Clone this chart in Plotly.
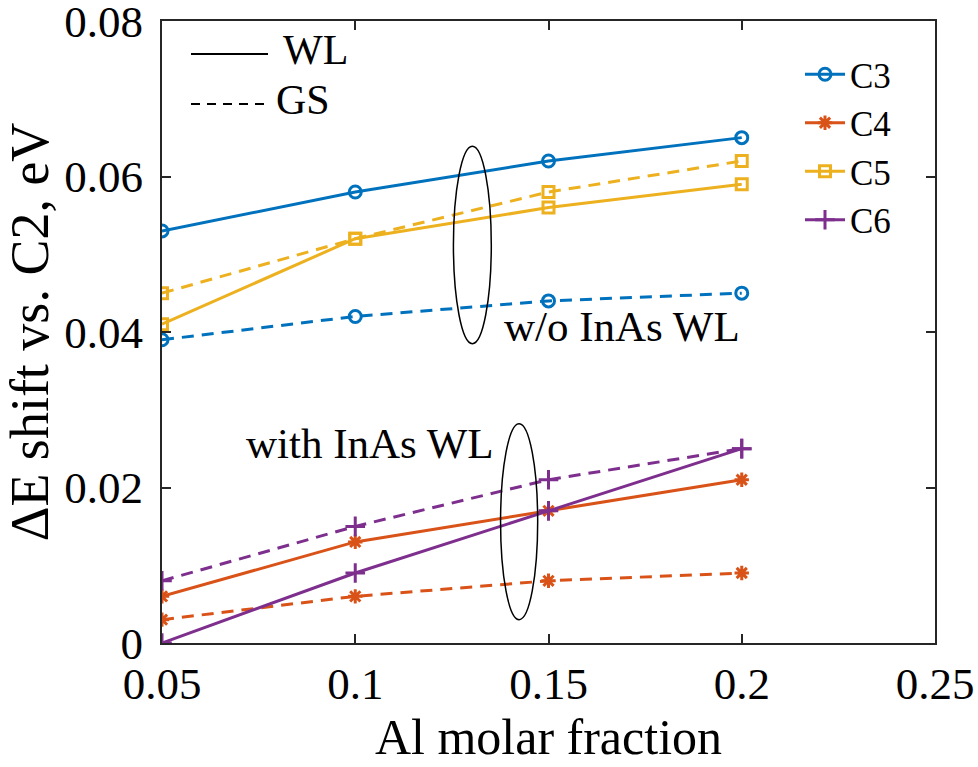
import plotly.graph_objects as go

# ---------------- data ----------------
al_fraction = [0.05, 0.10, 0.15, 0.20]

c3_wl = [0.053, 0.058, 0.062, 0.065]
c3_gs = [0.039, 0.042, 0.044, 0.045]
c4_wl = [0.006, 0.013, 0.017, 0.021]
c4_gs = [0.003, 0.006, 0.008, 0.009]
c5_wl = [0.041, 0.052, 0.056, 0.059]
c5_gs = [0.045, 0.052, 0.058, 0.062]
c6_wl = [0.000, 0.009, 0.017, 0.025]
c6_gs = [0.008, 0.015, 0.021, 0.025]

series_names = ["C3", "C4", "C5", "C6"]
wl_values = [c3_wl, c4_wl, c5_wl, c6_wl]
gs_values = [c3_gs, c4_gs, c5_gs, c6_gs]
colors = ["#0072BD", "#D95319", "#EDB120", "#7E2F8E"]
symbols = ["circle-open", "asterisk-open", "square-open", "cross-thin-open"]
marker_sizes = [12, 12, 11, 14]

x_ticks = [0.05, 0.1, 0.15, 0.2, 0.25]
x_ticklabels = ["0.05", "0.1", "0.15", "0.2", "0.25"]
y_ticks = [0, 0.02, 0.04, 0.06, 0.08]
y_ticklabels = ["0", "0.02", "0.04", "0.06", "0.08"]

# ellipses (data coords): center x, center y, half-width, half-height
ellipse_wo = (0.1303, 0.0512, 0.0049, 0.0127)
ellipse_with = (0.1424, 0.0156, 0.0048, 0.0126)

FONT = "Liberation Serif, Times New Roman, serif"
AXIS_COLOR = "#262626"
LW = 3

fig = go.Figure()

for name, wl, gs, col, sym, ms in zip(series_names, wl_values, gs_values,
                                       colors, symbols, marker_sizes):
    fig.add_trace(go.Scatter(
        x=al_fraction, y=wl, mode="lines+markers", name=name,
        legendgroup=name, showlegend=True,
        line=dict(color=col, width=LW),
        marker=dict(symbol=sym, size=ms, color=col,
                    line=dict(color=col, width=3)),
    ))
    fig.add_trace(go.Scatter(
        x=al_fraction, y=gs, mode="lines+markers", name=name + " GS",
        legendgroup=name, showlegend=False,
        line=dict(color=col, width=LW, dash="12px,8px"),
        marker=dict(symbol=sym, size=ms, color=col,
                    line=dict(color=col, width=3)),
    ))

# ellipses
for cx, cy, hw, hh in (ellipse_wo, ellipse_with):
    fig.add_shape(type="circle", xref="x", yref="y",
                  x0=cx - hw, x1=cx + hw, y0=cy - hh, y1=cy + hh,
                  line=dict(color="black", width=1.5))

# line-style legend (WL / GS) drawn in paper coords
def px_x(p):
    return (p - 162) / 773.0

def px_y(p):
    return (643 - p) / 622.0

fig.add_shape(type="line", xref="paper", yref="paper",
              x0=px_x(191), x1=px_x(268), y0=px_y(54), y1=px_y(54),
              line=dict(color="black", width=2.2))
fig.add_shape(type="line", xref="paper", yref="paper",
              x0=px_x(191), x1=px_x(268), y0=px_y(104), y1=px_y(104),
              line=dict(color="black", width=2.2, dash="9px,7px"))
fig.add_annotation(xref="paper", yref="paper", x=px_x(281), y=px_y(50),
                   text="WL", showarrow=False, xanchor="left", yanchor="middle",
                   font=dict(family=FONT, size=42, color="black"))
fig.add_annotation(xref="paper", yref="paper", x=px_x(274), y=px_y(100),
                   text="GS", showarrow=False, xanchor="left", yanchor="middle",
                   font=dict(family=FONT, size=42, color="black"))

fig.add_annotation(xref="paper", yref="paper", x=px_x(622), y=px_y(326),
                   text="w/o InAs WL", showarrow=False,
                   xanchor="center", yanchor="middle",
                   font=dict(family=FONT, size=43, color="black"))
fig.add_annotation(xref="paper", yref="paper", x=px_x(370), y=px_y(443),
                   text="with InAs WL", showarrow=False,
                   xanchor="center", yanchor="middle",
                   font=dict(family=FONT, size=43, color="black"))

fig.update_xaxes(
    range=[0.05, 0.25], tickvals=x_ticks, ticktext=x_ticklabels,
    ticks="inside", ticklen=9, tickwidth=1.5, tickcolor=AXIS_COLOR,
    showline=True, linecolor=AXIS_COLOR, linewidth=2, mirror="ticks",
    showgrid=False, zeroline=False, automargin=False,
    ticklabeloverflow="allow",
    tickfont=dict(family=FONT, size=45, color="black"),
    title=dict(text="Al molar fraction", standoff=10,
               font=dict(family=FONT, size=50, color="black")),
)
fig.update_yaxes(
    range=[0, 0.08], tickvals=y_ticks, ticktext=y_ticklabels,
    ticks="inside", ticklen=9, tickwidth=1.5, tickcolor=AXIS_COLOR,
    showline=True, linecolor=AXIS_COLOR, linewidth=2, mirror="ticks",
    showgrid=False, zeroline=False, automargin=False,
    ticklabeloverflow="allow",
    tickfont=dict(family=FONT, size=45, color="black"),
    ticklabelstandoff=8,
    title=dict(text="ΔE shift vs. C2, eV", standoff=8,
               font=dict(family=FONT, size=54, color="black")),
)

fig.update_layout(
    width=978, height=767,
    margin=dict(l=162, r=43, t=21, b=124),
    paper_bgcolor="white", plot_bgcolor="white",
    showlegend=True,
    legend=dict(x=px_x(800), y=px_y(45), xanchor="left", yanchor="top",
                bgcolor="rgba(0,0,0,0)", borderwidth=0,
                font=dict(family=FONT, size=35, color="black"),
                tracegroupgap=0, itemwidth=40),
)

fig.write_html("out.html",
               config={"displayModeBar": False},
               post_script="document.body.style.margin='0';"
                           "document.body.style.padding='0';")
